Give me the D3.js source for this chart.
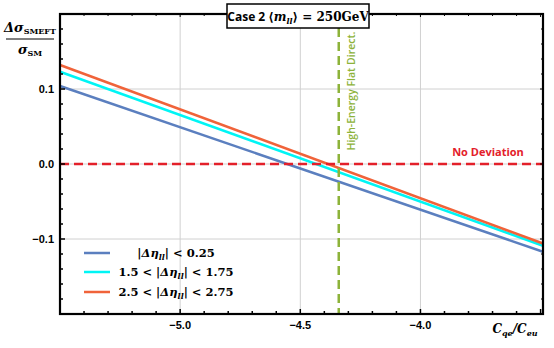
<!DOCTYPE html>
<html>
<head>
<meta charset="utf-8">
<script src="https://cdn.jsdelivr.net/npm/d3@7"></script>
<style>
  body { margin: 0; background: #fff; }
  .tick-label { font-family: "Liberation Sans", Arial, sans-serif; font-weight: bold; font-size: 11px; }
  .math { font-family: "DejaVu Serif", "Liberation Serif", serif; font-weight: bold; }
</style>
</head>
<body>
<div id="chart"></div>
<script>
// data
var xVals = [-5.5, -3.49];
var blueVals = [0.104, -0.117];
var cyanVals = [0.123, -0.109];
var orangeVals = [0.132, -0.106];
var seriesNames = ["blue", "cyan", "orange"];
var xTicks = [-5.0, -4.5, -4.0];
var yTicks = [-0.1, 0.0, 0.1];
var flatDirect = -4.34;

var W = 554, H = 348;
var margin = {top: 14, right: 11, bottom: 34, left: 60};

var svg = d3.select("#chart").append("svg")
  .attr("width", W).attr("height", H);

var x = d3.scaleLinear().domain([-5.5, -3.49]).range([margin.left, W - margin.right]);
var y = d3.scaleLinear().domain([-0.2, 0.2]).range([H - margin.bottom, margin.top]);

var x0 = margin.left, x1 = W - margin.right, y0 = margin.top, y1 = H - margin.bottom;

// gridlines
svg.append("g").selectAll("line.gx").data(xTicks).enter().append("line")
  .attr("x1", d => x(d)).attr("x2", d => x(d)).attr("y1", y0).attr("y2", y1)
  .attr("stroke", "#d0d0d0").attr("stroke-width", 1);
svg.append("g").selectAll("line.gy").data(yTicks).enter().append("line")
  .attr("y1", d => y(d)).attr("y2", d => y(d)).attr("x1", x0).attr("x2", x1)
  .attr("stroke", "#d0d0d0").attr("stroke-width", 1);

// data lines
var line = d3.line().x((d, i) => x(xVals[i])).y(d => y(d));
var series = [
  {vals: blueVals, color: "#5b7fbf", label: "blue"},
  {vals: cyanVals, color: "#00f5f5"},
  {vals: orangeVals, color: "#f0633a"}
];
series.forEach(s => {
  svg.append("path").datum(s.vals)
    .attr("d", line).attr("fill", "none")
    .attr("stroke", s.color).attr("stroke-width", 2.5);
});

// no deviation line
svg.append("line")
  .attr("x1", x0).attr("x2", x1).attr("y1", y(0)).attr("y2", y(0))
  .attr("stroke", "#e3202a").attr("stroke-width", 2.5)
  .attr("stroke-dasharray", "9,5");
svg.append("text").attr("x", 488).attr("y", y(0) - 8)
  .attr("text-anchor", "middle")
  .attr("fill", "#e3202a")
  .style("font-family", "'Open Sans', sans-serif").style("font-weight", "bold").style("font-size", "11px")
  .text("No Deviation");

// high energy flat direction
svg.append("line")
  .attr("x1", x(flatDirect)).attr("x2", x(flatDirect)).attr("y1", 28).attr("y2", y1)
  .attr("stroke", "#8db33a").attr("stroke-width", 2.5)
  .attr("stroke-dasharray", "9,5");
svg.append("text")
  .attr("transform", `translate(${x(flatDirect) + 16},91) rotate(-90)`)
  .attr("text-anchor", "middle")
  .attr("fill", "#8db33a")
  .style("font-family", "'Open Sans', sans-serif").style("font-size", "10.5px").style("font-weight", "600")
  .text("High-Energy Flat Direct.");

// frame ticks
var xMinor = d3.range(-5.5, -3.48, 0.1);
var yMinor = d3.range(-0.2, 0.201, 0.02);
var tk = svg.append("g").attr("stroke", "#000");
xMinor.forEach(v => {
  var major = Math.abs(Math.round(v * 2) - v * 2) < 1e-6;
  tk.append("line").attr("x1", x(v)).attr("x2", x(v)).attr("y1", y1).attr("y2", y1 - (major ? 5 : 3)).attr("stroke-width", 1.5);
  tk.append("line").attr("x1", x(v)).attr("x2", x(v)).attr("y1", y0).attr("y2", y0 + (major ? 3 : 2)).attr("stroke-width", 1);
});
yMinor.forEach(v => {
  var major = Math.abs(Math.round(v * 10) - v * 10) < 1e-6;
  tk.append("line").attr("y1", y(v)).attr("y2", y(v)).attr("x1", x0).attr("x2", x0 + (major ? 5 : 3)).attr("stroke-width", 1.5);
  tk.append("line").attr("y1", y(v)).attr("y2", y(v)).attr("x1", x1).attr("x2", x1 - (major ? 3 : 2)).attr("stroke-width", 1);
});

// frame
svg.append("rect").attr("x", x0).attr("y", y0).attr("width", x1 - x0).attr("height", y1 - y0)
  .attr("fill", "none").attr("stroke", "#000").attr("stroke-width", 2.2);

// tick labels
var fmt = d => (d < 0 ? "\u2212" : "") + Math.abs(d).toFixed(1);
svg.append("g").selectAll("text").data(xTicks).enter().append("text")
  .attr("class", "tick-label").attr("x", d => x(d)).attr("y", y1 + 15)
  .attr("text-anchor", "middle").text(fmt);
svg.append("g").selectAll("text").data(yTicks).enter().append("text")
  .attr("class", "tick-label").attr("x", x0 - 6).attr("y", d => y(d) + 4)
  .attr("text-anchor", "end").text(fmt);

// title box
svg.append("rect").attr("x", 227).attr("y", 4).attr("width", 142).attr("height", 24)
  .attr("fill", "#fff").attr("stroke", "#000").attr("stroke-width", 1.5);
var title = svg.append("text").attr("x", 298).attr("y", 21).attr("text-anchor", "middle")
  .style("font-size", "12px").style("font-weight", "bold");
title.append("tspan").style("font-family", "'Open Sans', sans-serif").text("Case 2 ");
title.append("tspan").attr("class", "math").text("\u27E8");
title.append("tspan").attr("class", "math").style("font-style", "italic").text("m");
title.append("tspan").attr("class", "math").style("font-style", "italic").style("font-size", "8px").attr("dy", 3).text("ll");
title.append("tspan").attr("class", "math").attr("dy", -3).text("\u27E9 = 250GeV");

// y label fraction
var yl = svg.append("g");
var num = yl.append("text").attr("x", 30).attr("y", 32).attr("text-anchor", "middle").attr("class", "math")
  .style("font-size", "13px");
num.append("tspan").style("font-style", "italic").text("\u0394\u03C3");
num.append("tspan").style("font-size", "8px").attr("dy", 2).text("SMEFT");
yl.append("line").attr("x1", 6).attr("x2", 54).attr("y1", 39).attr("y2", 39).attr("stroke", "#000").attr("stroke-width", 1);
var den = yl.append("text").attr("x", 30).attr("y", 54).attr("text-anchor", "middle").attr("class", "math")
  .style("font-size", "13px");
den.append("tspan").style("font-style", "italic").text("\u03C3");
den.append("tspan").style("font-size", "8px").attr("dy", 2).text("SM");

// x label
var xl = svg.append("text").attr("x", 515).attr("y", 333).attr("text-anchor", "middle").attr("class", "math")
  .style("font-size", "12px").style("font-style", "italic");
xl.append("tspan").text("C");
xl.append("tspan").style("font-size", "8px").attr("dy", 3).text("qe");
xl.append("tspan").attr("dy", -3).text("/C");
xl.append("tspan").style("font-size", "8px").attr("dy", 3).text("eu");

// legend
var legendLabels = [
  [["", "|"], ["i", "\u0394\u03B7"], ["s", "ll"], ["", "| < 0.25"]],
  [["", "1.5 < |"], ["i", "\u0394\u03B7"], ["s", "ll"], ["", "| < 1.75"]],
  [["", "2.5 < |"], ["i", "\u0394\u03B7"], ["s", "ll"], ["", "| < 2.75"]]
];
var legendY = [253, 272, 292];
series.forEach((s, i) => {
  svg.append("line").attr("x1", 84).attr("x2", 110).attr("y1", legendY[i]).attr("y2", legendY[i])
    .attr("stroke", s.color).attr("stroke-width", 2.5);
  var t = svg.append("text").attr("x", 176).attr("y", legendY[i] + 4).attr("text-anchor", "middle")
    .attr("class", "math").style("font-size", "11.5px");
  var shifted = false;
  legendLabels[i].forEach(p => {
    var ts = t.append("tspan").text(p[1]);
    if (p[0] === "i") ts.style("font-style", "italic");
    if (p[0] === "s") { ts.style("font-style", "italic").style("font-size", "8px").attr("dy", 3); shifted = true; }
    else if (shifted) { ts.attr("dy", -3); shifted = false; }
  });
});
</script>
</body>
</html>
